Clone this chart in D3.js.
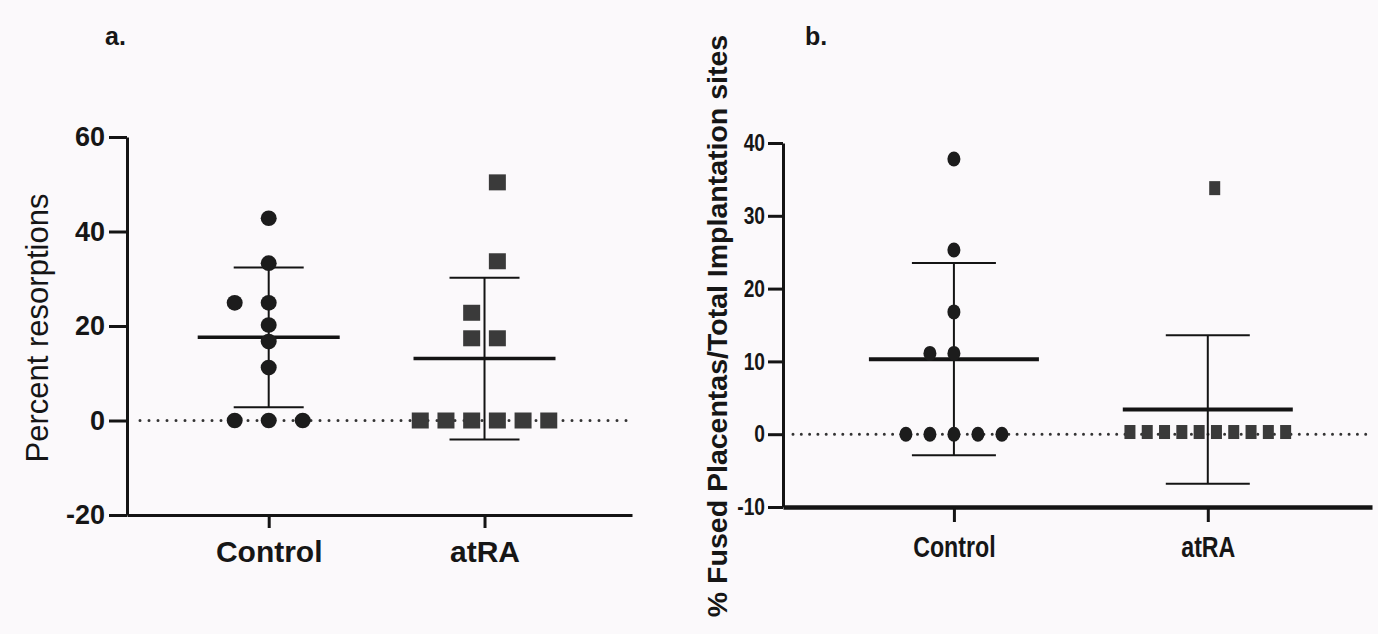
<!DOCTYPE html>
<html>
<head>
<meta charset="utf-8">
<script src="https://cdn.jsdelivr.net/npm/d3@7"></script>
<style>
  body { margin: 0; background: #fbf9fb; }
  svg { display: block; }
  text { font-family: "Liberation Sans", Arial, sans-serif; fill: #161616; }
</style>
</head>
<body>
<svg id="chart" width="1378" height="634"></svg>
<script>
const groups = ['Control', 'atRA'];

// Panel a : percent resorptions
const aTicks = [-20, 0, 20, 40, 60];
const aControl = [42.8, 33.3, 24.9, 24.9, 20.2, 16.7, 11.2, 0, 0, 0];
const aControlSlot = [0, 0, -1, 0, 0, 0, 0, -1, 0, 1];
const aAtra = [50.4, 33.7, 22.8, 17.4, 17.4, 0, 0, 0, 0, 0, 0];
const aAtraSlot = [0.5, 0.5, -0.5, -0.5, 0.5, -2.5, -1.5, -0.5, 0.5, 1.5, 2.5];
const aMean = [17.6, 13.1];
const aSd = [14.8, 17.1];

// Panel b : % fused placentas
const bTicks = [-10, 0, 10, 20, 30, 40];
const bControl = [37.8, 25.3, 16.8, 11.1, 11.1, 0, 0, 0, 0, 0];
const bControlSlot = [0, 0, 0, -1, 0, -2, -1, 0, 1, 2];
const bAtra = [33.8, 0.3, 0.3, 0.3, 0.3, 0.3, 0.3, 0.3, 0.3, 0.3, 0.3];
const bAtraSlot = [0.4, -4.5, -3.5, -2.5, -1.5, -0.5, 0.5, 1.5, 2.5, 3.5, 4.5];
const bMean = [10.3, 3.4];
const bSd = [13.2, 10.2];

const svg = d3.select('#chart');

const panels = [
    {
        label: 'a.', labelX: 105, labelY: 45,
        title: 'Percent resorptions', titleX: 48, titleY: 328, titleSize: 31, titleWeight: 'normal',
        tickFont: 27, catFont: 30, squeeze: 1,
        left: 127, right: 632, top: 137, bottom: 515,
        pad: 0.67, align: 0.49,
        ticks: aTicks, tickLen: 18, tickPad: 4, catTick: 13, catPad: 13,
        axisWidth: 3, xAxisWidth: 3,
        series: [
            { values: aControl, slots: aControlSlot, shape: 'circle' },
            { values: aAtra, slots: aAtraSlot, shape: 'square' }
        ],
        mean: aMean, sd: aSd,
        spacing: [34, 25.7], dot: { rx: 8, ry: 7.8, w: 17, h: 16 },
        meanHalf: 71, capHalf: 35, meanWidth: 3.5,
        dotStart: 13, dotGap: 9
    },
    {
        label: 'b.', labelX: 805, labelY: 45,
        title: '% Fused Placentas/Total Implantation sites', titleX: 727, titleY: 326, titleSize: 28.5, titleWeight: 'bold',
        tickFont: 24, catFont: 29, squeeze: 0.8,
        left: 783, right: 1372, top: 143, bottom: 507,
        pad: 0.66, align: 0.51,
        ticks: bTicks, tickLen: 15, tickPad: 3, catTick: 15, catPad: 14,
        axisWidth: 3, xAxisWidth: 4.5,
        series: [
            { values: bControl, slots: bControlSlot, shape: 'circle' },
            { values: bAtra, slots: bAtraSlot, shape: 'square' }
        ],
        mean: bMean, sd: bSd,
        spacing: [24, 17.3], dot: { rx: 6.5, ry: 7.5, w: 11, h: 14 },
        meanHalf: 85, capHalf: 42, meanWidth: 4,
        dotStart: 10, dotGap: 8.3
    }
];

panels.forEach(drawPanel);

function drawPanel(p) {
    const y = d3.scaleLinear()
        .domain(d3.extent(p.ticks))
        .range([p.bottom, p.top]);

    const x = d3.scalePoint()
        .domain(groups)
        .range([p.left, p.right])
        .padding(p.pad)
        .align(p.align);

    const g = svg.append('g');

    // Dotted zero line
    g.append('line')
        .attr('x1', p.left + p.dotStart)
        .attr('x2', p.right)
        .attr('y1', y(0))
        .attr('y2', y(0))
        .attr('stroke', '#333')
        .attr('stroke-width', 3)
        .attr('stroke-linecap', 'round')
        .attr('stroke-dasharray', `0 ${p.dotGap}`);

    // Y axis (plain hyphen for negatives, like the original)
    const yAxis = g.append('g')
        .attr('transform', `translate(${p.left},0)`)
        .call(d3.axisLeft(y)
            .tickValues(p.ticks)
            .tickFormat(d => String(d))
            .tickSize(p.tickLen)
            .tickSizeOuter(0)
            .tickPadding(p.tickPad));

    // X axis
    const xAxis = g.append('g')
        .attr('transform', `translate(0,${p.bottom})`)
        .call(d3.axisBottom(x).tickSize(p.catTick).tickSizeOuter(0).tickPadding(p.catPad));

    [yAxis, xAxis].forEach(ax => {
        ax.selectAll('line').attr('stroke', '#141414').attr('stroke-width', 3);
        ax.selectAll('text')
            .style('font-weight', 'bold')
            .attr('fill', '#161616');
    });
    yAxis.select('.domain').attr('stroke', '#141414').attr('stroke-width', p.axisWidth);
    xAxis.select('.domain').attr('stroke', '#141414').attr('stroke-width', p.xAxisWidth);
    yAxis.selectAll('text').style('font-size', p.tickFont + 'px');
    xAxis.selectAll('text').style('font-size', p.catFont + 'px');

    // Narrow lettering on panel b
    if (p.squeeze !== 1) {
        yAxis.selectAll('text')
            .attr('x', -(p.tickLen + p.tickPad) / p.squeeze)
            .attr('transform', `scale(${p.squeeze},1)`);
        xAxis.selectAll('text')
            .attr('transform', `scale(${p.squeeze},1)`);
    }

    // Error bars and mean
    groups.forEach((grp, i) => {
        const cx = x(grp);
        const hi = p.mean[i] + p.sd[i];
        const lo = p.mean[i] - p.sd[i];

        g.append('line')
            .attr('x1', cx).attr('x2', cx)
            .attr('y1', y(hi)).attr('y2', y(lo))
            .attr('stroke', '#141414').attr('stroke-width', 2);

        [hi, lo].forEach(v => {
            g.append('line')
                .attr('x1', cx - p.capHalf).attr('x2', cx + p.capHalf)
                .attr('y1', y(v)).attr('y2', y(v))
                .attr('stroke', '#141414').attr('stroke-width', 2);
        });

        g.append('line')
            .attr('x1', cx - p.meanHalf).attr('x2', cx + p.meanHalf)
            .attr('y1', y(p.mean[i])).attr('y2', y(p.mean[i]))
            .attr('stroke', '#141414').attr('stroke-width', p.meanWidth);
    });

    // Points
    p.series.forEach((s, i) => {
        const jitter = d3.scaleLinear().domain([0, 1]).range([0, p.spacing[i]]);
        const cx = x(groups[i]);
        const pts = s.values.map((v, k) => ({ v: v, slot: s.slots[k] }));

        if (s.shape === 'circle') {
            g.selectAll(`.c${i}`)
                .data(pts)
                .enter().append('ellipse')
                .attr('cx', d => cx + jitter(d.slot))
                .attr('cy', d => y(d.v))
                .attr('rx', p.dot.rx)
                .attr('ry', p.dot.ry)
                .attr('fill', '#1c1c1c');
        } else {
            g.selectAll(`.s${i}`)
                .data(pts)
                .enter().append('rect')
                .attr('x', d => cx + jitter(d.slot) - p.dot.w / 2)
                .attr('y', d => y(d.v) - p.dot.h / 2)
                .attr('width', p.dot.w)
                .attr('height', p.dot.h)
                .attr('fill', '#3a3a3a');
        }
    });

    // Panel letter
    svg.append('text')
        .attr('x', p.labelX)
        .attr('y', p.labelY)
        .style('font-size', '25px')
        .style('font-weight', 'bold')
        .text(p.label);

    // Y title
    svg.append('text')
        .attr('transform', `translate(${p.titleX},${p.titleY}) rotate(-90)`)
        .attr('text-anchor', 'middle')
        .style('font-size', p.titleSize + 'px')
        .style('font-weight', p.titleWeight)
        .text(p.title);
}
</script>
</body>
</html>
